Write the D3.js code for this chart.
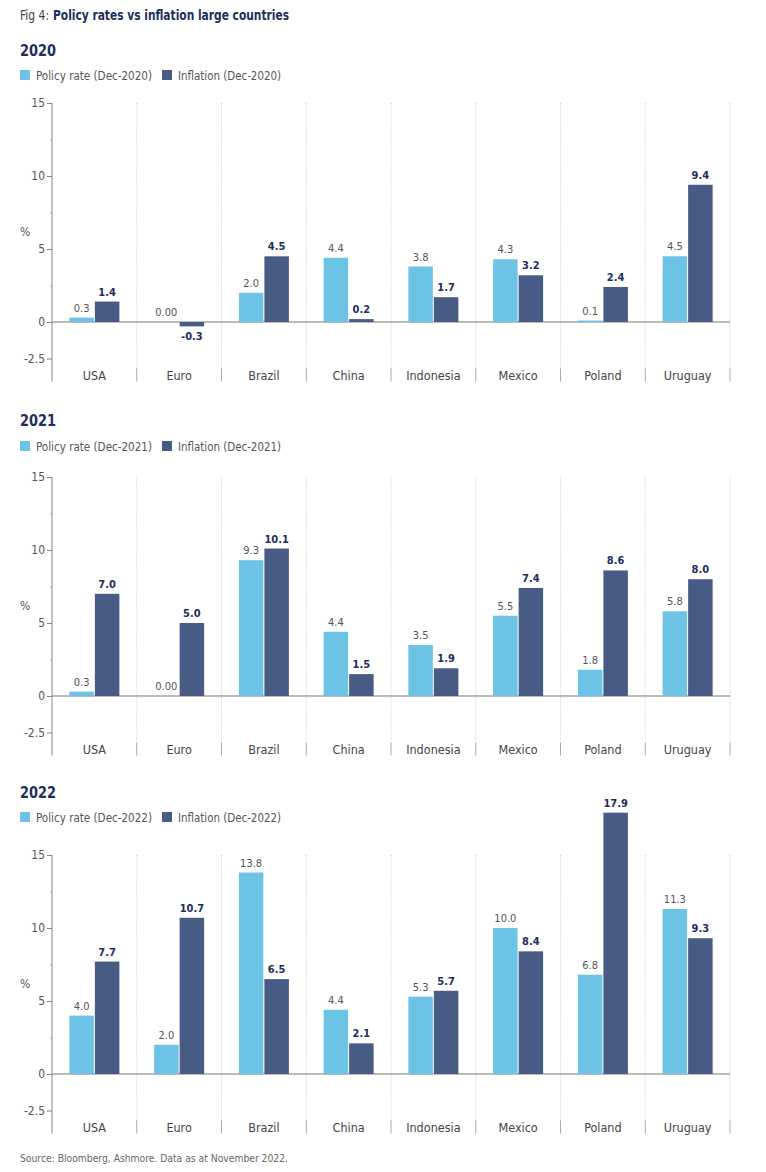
<!DOCTYPE html>
<html><head><meta charset="utf-8">
<script src="https://cdn.jsdelivr.net/npm/d3@7"></script>
<style>
body{margin:0;background:#fff;}
svg text{font-family:"DejaVu Sans Condensed","Liberation Sans Narrow","Roboto",sans-serif;font-stretch:condensed;}
</style></head>
<body><svg id="c" width="766" height="1172"></svg>
<script>
const categories = ["USA","Euro","Brazil","China","Indonesia","Mexico","Poland","Uruguay"];
const years = ["2020","2021","2022"];
const policy2020 = [0.3,0.00,2.0,4.4,3.8,4.3,0.1,4.5];
const inflation2020 = [1.4,-0.3,4.5,0.2,1.7,3.2,2.4,9.4];
const policy2021 = [0.3,0.00,9.3,4.4,3.5,5.5,1.8,5.8];
const inflation2021 = [7.0,5.0,10.1,1.5,1.9,7.4,8.6,8.0];
const policy2022 = [4.0,2.0,13.8,4.4,5.3,10.0,6.8,11.3];
const inflation2022 = [7.7,10.7,6.5,2.1,5.7,8.4,17.9,9.3];
const yTicks = [-2.5,0,5,10,15];
const yMinorTicks = [2.5,7.5,12.5];

const LIGHT="#6dc3e6", DARK="#475b85", NAVY="#1c2e5a", GREY="#555";
const svg = d3.select("#c");

svg.append("text").attr("x",20).attr("y",20).attr("font-size",14).attr("fill","#444")
  .attr("textLength",29).attr("lengthAdjust","spacingAndGlyphs").text("Fig 4:");
svg.append("text").attr("x",53).attr("y",20).attr("font-size",14).attr("font-weight","bold").attr("fill",NAVY)
  .attr("textLength",236).attr("lengthAdjust","spacingAndGlyphs").text("Policy rates vs inflation large countries");

svg.append("text").attr("x",20).attr("y",1162).attr("font-size",11).attr("fill","#666")
  .attr("textLength",268).attr("lengthAdjust","spacingAndGlyphs")
  .text("Source: Bloomberg, Ashmore. Data as at November 2022.");

const panels = [
  {year:"2020", policy:policy2020, inflation:inflation2020, top:103, yearY:56, legY:80},
  {year:"2021", policy:policy2021, inflation:inflation2021, top:477, yearY:426, legY:451},
  {year:"2022", policy:policy2022, inflation:inflation2022, top:855, yearY:798, legY:822},
];
const fmt = v => v===0 ? "0.00" : (v<0 ? "-" + d3.format(".1f")(-v) : d3.format(".1f")(v));

panels.forEach(p=>{
  const g = svg.append("g");
  const pxPerUnit = 219/15;
  const y = d3.scaleLinear().domain([-2.5,15]).range([p.top+17.5*pxPerUnit, p.top]);
  const x = d3.scaleBand().domain(categories).range([52,730]).paddingInner(0).paddingOuter(0);
  const bw = x.bandwidth();
  const xs = d3.scaleBand().domain(["policy","inflation"]).range([bw/2-25, bw/2+25]).paddingInner(0.04);
  const bottom = y(-2.5);

  g.append("text").attr("x",20).attr("y",p.yearY).attr("font-size",16.5).attr("font-weight","bold")
    .attr("fill",NAVY).attr("textLength",36).attr("lengthAdjust","spacingAndGlyphs").text(p.year);
  const leg = [{c:LIGHT,t:`Policy rate (Dec-${p.year})`,x:20,w:116},{c:DARK,t:`Inflation (Dec-${p.year})`,x:162,w:103}];
  leg.forEach(l=>{
    g.append("rect").attr("x",l.x).attr("y",p.legY-10).attr("width",10).attr("height",10).attr("fill",l.c);
    g.append("text").attr("x",l.x+16).attr("y",p.legY).attr("font-size",12.5).attr("fill",GREY)
      .attr("textLength",l.w).attr("lengthAdjust","spacingAndGlyphs").text(l.t);
  });

  const bounds = categories.map(c=>x(c)+bw);
  g.selectAll(".dot").data(bounds).join("line")
    .attr("x1",d=>d).attr("x2",d=>d).attr("y1",p.top).attr("y2",bottom+10)
    .attr("stroke","#bbb").attr("stroke-width",0.8).attr("stroke-dasharray","1,1.5");
  g.selectAll(".sep").data(bounds).join("line")
    .attr("x1",d=>d).attr("x2",d=>d).attr("y1",bottom+10).attr("y2",bottom+23)
    .attr("stroke","#aaa").attr("stroke-width",1);

  g.append("line").attr("x1",52).attr("x2",730).attr("y1",y(0)).attr("y2",y(0))
    .attr("stroke","#777").attr("stroke-width",1);

  const ax = g.append("g").attr("transform","translate(52,0)")
    .call(d3.axisLeft(y).tickValues(yTicks).tickSize(5).tickFormat(d=>d===-2.5?"-2.5":d3.format("d")(d)));
  ax.select(".domain").remove();
  ax.selectAll("text").attr("font-size",12).attr("fill",GREY).attr("x",-7);
  ax.selectAll("line").attr("stroke","#888");
  const axm = g.append("g").attr("transform","translate(52,0)")
    .call(d3.axisLeft(y).tickValues(yMinorTicks).tickSize(2).tickFormat(""));
  axm.select(".domain").remove();
  axm.selectAll("line").attr("stroke","#bbb");
  g.append("line").attr("x1",52).attr("x2",52).attr("y1",p.top).attr("y2",bottom+23)
    .attr("stroke","#888").attr("stroke-width",1);
  g.append("text").attr("x",20).attr("y",y(5.9)).attr("font-size",12).attr("fill",GREY).text("%");

  const rows = categories.map((c,i)=>({c, policy:p.policy[i], inflation:p.inflation[i]}));
  const series = [{k:"policy",col:LIGHT},{k:"inflation",col:DARK}];
  series.forEach(s=>{
    g.selectAll(".b"+s.k).data(rows).join("rect")
      .attr("x",d=>x(d.c)+xs(s.k)).attr("width",xs.bandwidth())
      .attr("y",d=>y(Math.max(0,d[s.k]))).attr("height",d=>Math.abs(y(d[s.k])-y(0)))
      .attr("fill",s.col);
    g.selectAll(".l"+s.k).data(rows).join("text")
      .attr("x",d=>x(d.c)+xs(s.k)+xs.bandwidth()/2)
      .attr("y",d=>d[s.k]<0 ? y(d[s.k])+14 : y(d[s.k])-6)
      .attr("text-anchor","middle").attr("font-size",11)
      .attr("font-weight",s.k==="inflation"?"bold":"normal")
      .attr("fill",s.k==="inflation"?NAVY:GREY)
      .text(d=>fmt(d[s.k]));
  });

  g.selectAll(".cat").data(categories).join("text")
    .attr("x",d=>x(d)+bw/2).attr("y",bottom+21).attr("text-anchor","middle")
    .attr("font-size",12.5).attr("fill","#444").text(d=>d);
});
</script></body></html>
